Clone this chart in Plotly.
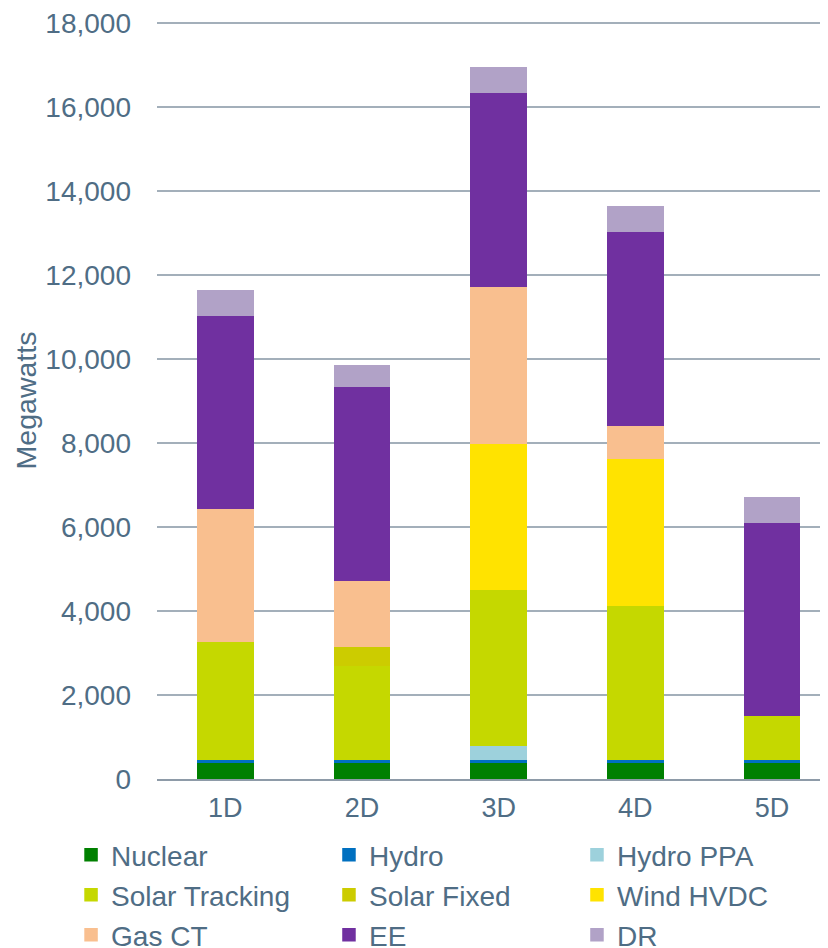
import plotly.graph_objects as go

categories = ["1D", "2D", "3D", "4D", "5D"]

nuclear = [400, 400, 400, 400, 400]
hydro = [60, 60, 60, 60, 60]
hydro_ppa = [0, 0, 350, 0, 0]
solar_tracking = [2830, 2260, 3700, 3680, 1050]
solar_fixed = [0, 450, 0, 0, 0]
wind_hvdc = [0, 0, 3490, 3500, 0]
gas_ct = [3155, 1570, 3740, 790, 0]
ee = [4610, 4610, 4610, 4610, 4610]
dr = [570, 500, 580, 580, 580]

series_names = ["Nuclear", "Hydro", "Hydro PPA", "Solar Tracking", "Solar Fixed",
                "Wind HVDC", "Gas CT", "EE", "DR"]
series_values = [nuclear, hydro, hydro_ppa, solar_tracking, solar_fixed,
                 wind_hvdc, gas_ct, ee, dr]
series_colors = ["#008000", "#0070C0", "#9DD1DC", "#C5D800", "#CCCC00",
                 "#FFE300", "#F9BF8F", "#7030A0", "#B1A2C7"]

text_color = "#4F6D85"
font_family = "Liberation Sans, Arial, sans-serif"

# legend grid (3 columns x 3 rows), positions in plot-paper coordinates
legend_cols = [-0.1281, 0.2563, 0.6259]
legend_rows = [-0.1005, -0.1534, -0.2063]

fig = go.Figure()
legend_layouts = {}
for i, (name, vals, color) in enumerate(zip(series_names, series_values, series_colors)):
    key = "legend" if i == 0 else f"legend{i + 1}"
    fig.add_trace(go.Bar(
        x=categories, y=vals, name=name, legend=key, showlegend=True,
        marker=dict(color=color, line=dict(width=1.5, color=color)),
    ))
    legend_layouts[key] = dict(
        orientation="h", x=legend_cols[i % 3], y=legend_rows[i // 3],
        xanchor="left", yanchor="middle",
        font=dict(size=28, color=text_color, family=font_family),
        bgcolor="rgba(0,0,0,0)", itemwidth=30, visible=True,
    )

# the page body adds an 8px offset, so the figure is 8px smaller than the window
fig.update_layout(
    width=820, height=940,
    showlegend=True,
    barmode="stack", bargap=0.595,
    plot_bgcolor="white", paper_bgcolor="white",
    margin=dict(l=149, r=0, t=14, b=169, autoexpand=False),
    font=dict(family=font_family, color=text_color),
    xaxis=dict(
        range=[-0.5, 4.41], showgrid=False, showline=True,
        linecolor="#8E9BA8", linewidth=2, ticks="",
        tickfont=dict(size=27, color=text_color), ticklabelstandoff=4,
        fixedrange=True,
    ),
    yaxis=dict(
        range=[0, 18030], dtick=2000, tickformat=",d",
        showgrid=True, gridcolor="#A3AFBA", gridwidth=1.5,
        zeroline=False, showline=False, ticks="",
        tickfont=dict(size=28, color=text_color), ticklabelstandoff=25,
        title=dict(text="Megawatts", font=dict(size=28.5, color=text_color), standoff=0),
    ),
    **legend_layouts,
)

fig.write_html("out.html")
